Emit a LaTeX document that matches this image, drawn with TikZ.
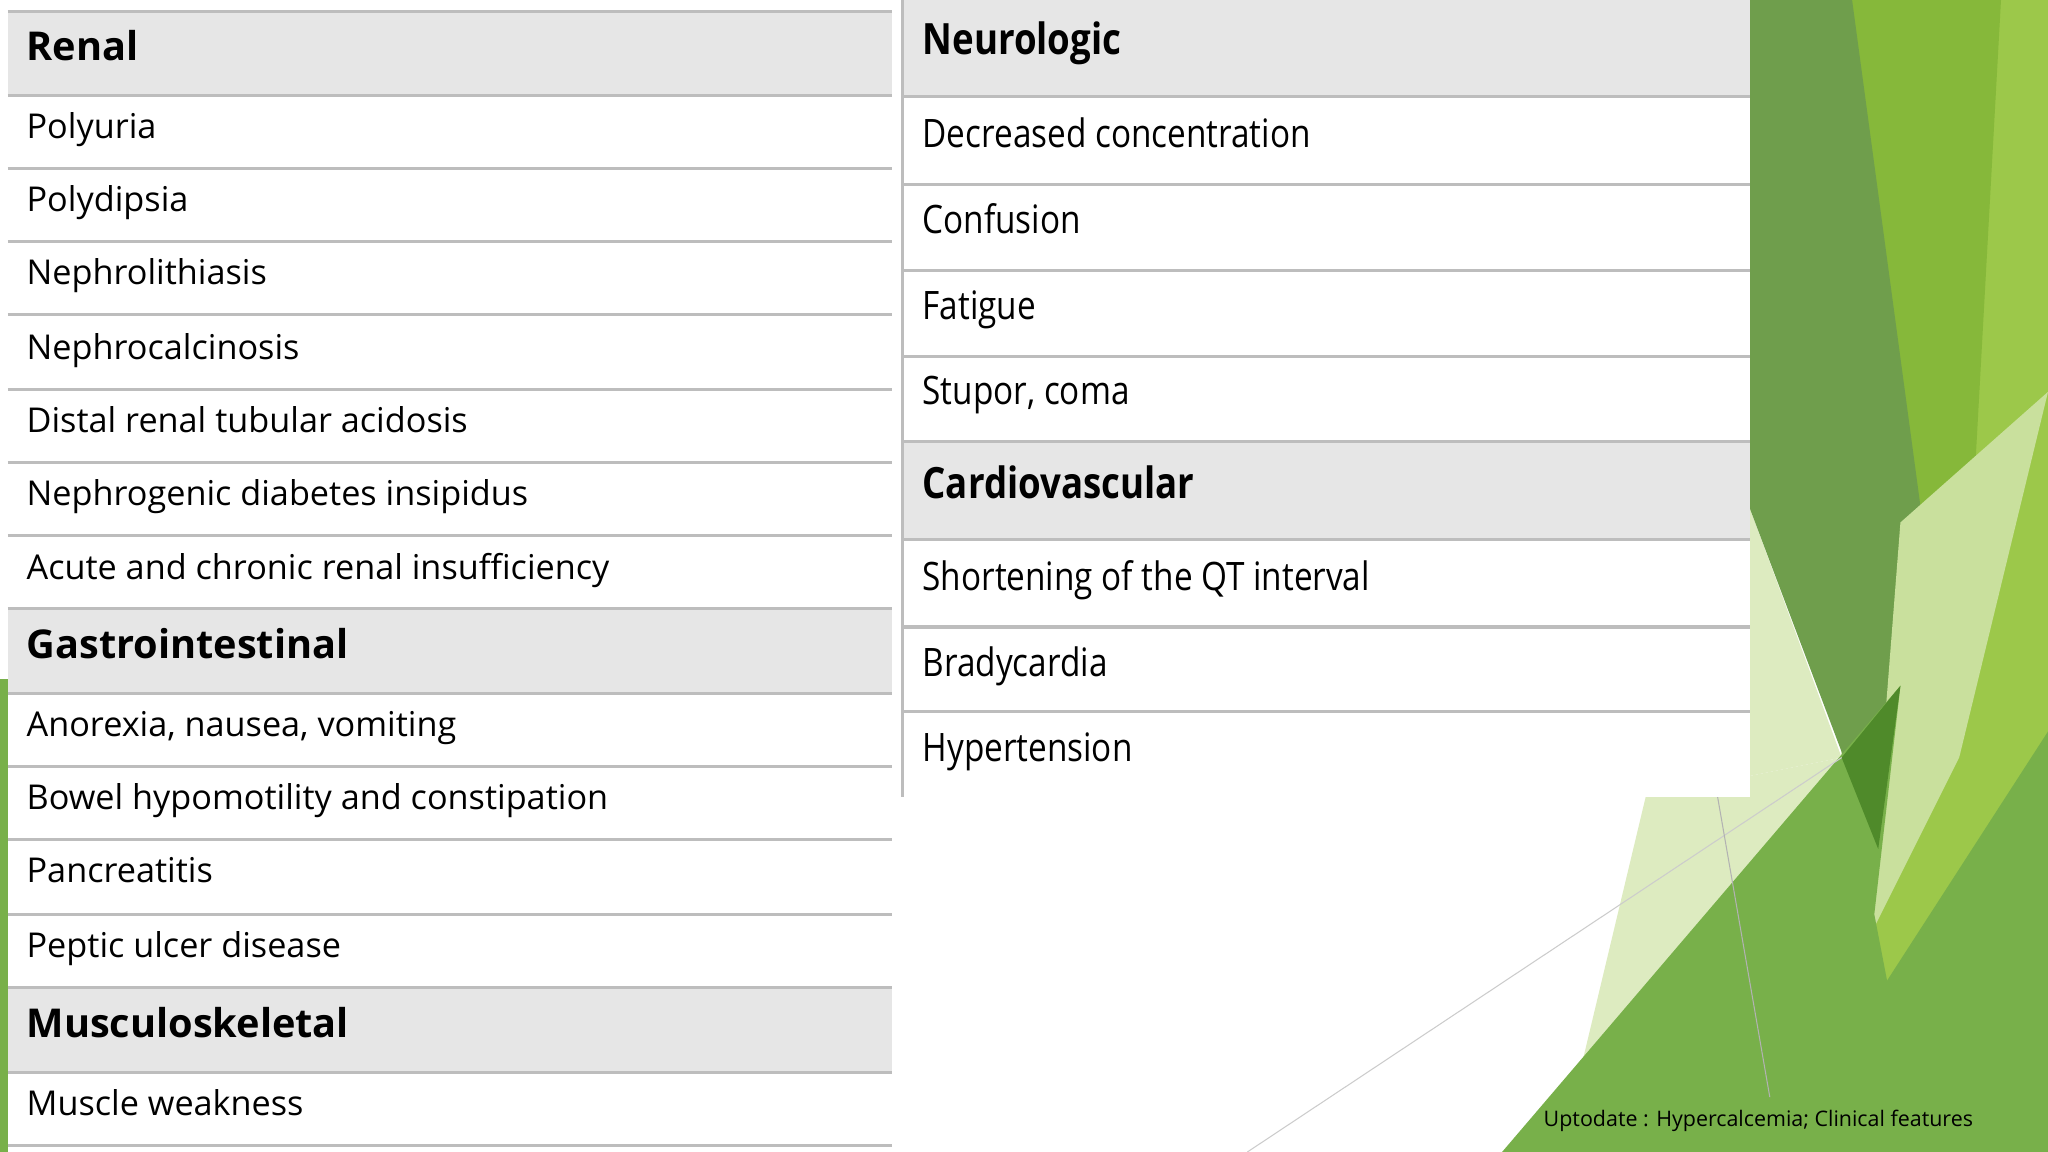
\documentclass[tikz,border=0pt]{standalone}
\usepackage{fontspec}
\setmainfont{Open Sans}
\newfontfamily\condfont[FakeStretch=0.85]{Open Sans}
\begin{document}
\begin{tikzpicture}[x=0.5pt,y=-0.5pt,
  hdr/.style={fill=hdrgray},
  sep/.style={draw=linegray,line width=1.2pt},
  tb/.style={text height=0.72em,text depth=0.22em},
  lrow/.style={tb,anchor=west,inner sep=0,font=\fontsize{13.1}{15}\selectfont},
  lhead/.style={tb,anchor=west,inner sep=0,font=\fontsize{15.2}{17}\selectfont\bfseries},
  rrow/.style={tb,anchor=west,inner sep=0,font=\condfont\fontsize{15}{17}\selectfont},
  rhead/.style={tb,anchor=west,inner sep=0,font=\condfont\fontsize{16.5}{18}\selectfont\bfseries}]
\definecolor{hdrgray}{HTML}{E6E6E6}
\definecolor{linegray}{HTML}{BDBDBD}
\definecolor{gA}{HTML}{6F9E4C}
\definecolor{gB}{HTML}{86B83A}
\definecolor{gC}{HTML}{9CC84A}
\definecolor{gD}{HTML}{78B04A}
\definecolor{gE}{HTML}{DDEBC0}
\definecolor{gF}{HTML}{4F8A2A}
\useasboundingbox (0,0) rectangle (1568,882);
\fill[white] (0,0) rectangle (1568,882);
% green decoration
\fill[gE] (1340,390) -- (1410,580) -- (1260,610) -- cycle;
\fill[gE] (1260,610) -- (1410,580) -- (1200,882) -- (1195,882) -- cycle;
\fill[gC] (1410,0) -- (1568,0) -- (1568,882) -- (1360,882) -- (1410,580) -- cycle;
\fill[gB] (1408,0) -- (1532,0) -- (1500,580) -- (1438,650) -- (1470,400) -- cycle;
\fill[gA] (1340,0) -- (1418,0) -- (1472,400) -- (1438,650) -- (1340,390) -- cycle;
\fill[gE!70!gC] (1455,400) -- (1568,300) -- (1500,580) -- (1430,720) -- cycle;
\fill[gD] (1150,882) -- (1455,525) -- (1435,700) -- (1470,882) -- cycle;
\fill[gF] (1410,580) -- (1455,525) -- (1438,650) -- cycle;
\fill[gD] (1360,882) -- (1568,560) -- (1568,882) -- cycle;
\draw[gray!40,line width=0.4pt] (955,882) -- (1410,580);
\draw[gray!60,line width=0.4pt] (1315,610) -- (1355,840);
\fill[gD] (0,520) rectangle (6,882);
% left table
\fill[white] (6,0) rectangle (683,882);
\fill[hdr] (6,9) rectangle (683,73);
\fill[hdr] (6,466) rectangle (683,531);
\fill[hdr] (6,756) rectangle (683,821);
\foreach \y in {9,73,129,185,241,298,354,410,466,531,587,643,700,756,821,877}
  \draw[sep] (6,\y) -- (683,\y);
\node[lhead] (renal) at (20,41) {Renal};
\node[lrow] (l1) at (20,101) {Polyuria};
\node[lrow] (l2) at (20,157) {Polydipsia};
\node[lrow] (l3) at (20,213) {Nephrolithiasis};
\node[lrow] (l4) at (20,270) {Nephrocalcinosis};
\node[lrow] (l5) at (20,326) {Distal renal tubular acidosis};
\node[lrow] (l6) at (20,382) {Nephrogenic diabetes insipidus};
\node[lrow] (l7) at (20,439) {Acute and chronic renal insufficiency};
\node[lhead] (gi) at (20,499) {Gastrointestinal};
\node[lrow] (g1) at (20,559) {Anorexia, nausea, vomiting};
\node[lrow] (g2) at (20,615) {Bowel hypomotility and constipation};
\node[lrow] (g3) at (20,671) {Pancreatitis};
\node[lrow] (g4) at (20,728) {Peptic ulcer disease};
\node[lhead] (ms) at (20,789) {Musculoskeletal};
\node[lrow] (m1) at (20,849) {Muscle weakness};
% right table
\fill[white] (691,0) rectangle (1340,610);
\fill[hdr] (691,0) rectangle (1340,74);
\fill[hdr] (691,338) rectangle (1340,413);
\foreach \y in {74,141,207,273,338,413,480,545}
  \draw[sep] (691,\y) -- (1340,\y);
\draw[sep] (691,0) -- (691,610);
\node[rhead] (neuro) at (706,37) {Neurologic};
\node[rrow] (n1) at (706,108) {Decreased concentration};
\node[rrow] (n2) at (706,174) {Confusion};
\node[rrow] (n3) at (706,240) {Fatigue};
\node[rrow] (n4) at (706,305) {Stupor, coma};
\node[rhead] (cardio) at (706,377) {Cardiovascular};
\node[rrow] (c1) at (706,447) {Shortening of the QT interval};
\node[rrow] (c2) at (706,513) {Bradycardia};
\node[rrow] (c3) at (706,578) {Hypertension};
\node[anchor=east,inner sep=0,font=\fontsize{8.2}{10}\selectfont] (src) at (1511,858) {Uptodate : Hypercalcemia; Clinical features};
\end{tikzpicture}
\end{document}
